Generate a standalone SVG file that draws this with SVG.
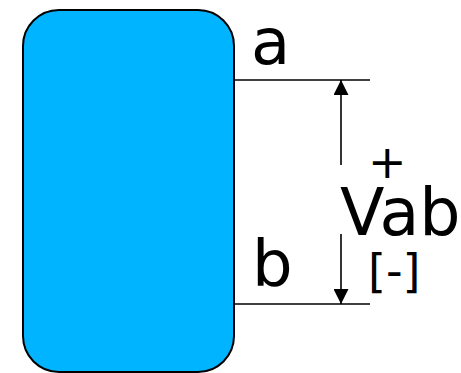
<svg xmlns="http://www.w3.org/2000/svg" width="461" height="373" viewBox="0 0 461 373">
<defs>
<style>
.t{font-family:"DejaVu Sans",sans-serif;fill:#000}
.ln{stroke:#000;stroke-width:1.6;fill:none}
</style>
<marker id="ah" viewBox="0 0 10 10" refX="10" refY="5" markerWidth="15" markerHeight="15" markerUnits="userSpaceOnUse" orient="auto">
<path d="M0,0 L10,5 L0,10 Z" fill="#000"/>
</marker>
</defs>
<rect width="461" height="373" fill="#fff"/>
<g id="box">
<rect x="23" y="10" width="211" height="362" rx="36" ry="36" fill="#00b4ff" stroke="#000" stroke-width="2"/>
</g>
<g id="connectors">
<line class="ln" x1="234" y1="80" x2="370" y2="80"/>
<line class="ln" x1="234" y1="304" x2="370" y2="304"/>
<line class="ln" x1="341" y1="165" x2="341" y2="80" marker-end="url(#ah)"/>
<line class="ln" x1="341" y1="234" x2="341" y2="304" marker-end="url(#ah)"/>
</g>
<g id="labels">
<text class="t" x="251" y="64" font-size="64">a</text>
<text class="t" x="252" y="286" font-size="64">b</text>
<text class="t" x="368" y="178" font-size="46">+</text>
<text class="t" x="340" y="235" font-size="65">Vab</text>
<text class="t" x="368" y="287" font-size="46">[-]</text>
</g>
</svg>
